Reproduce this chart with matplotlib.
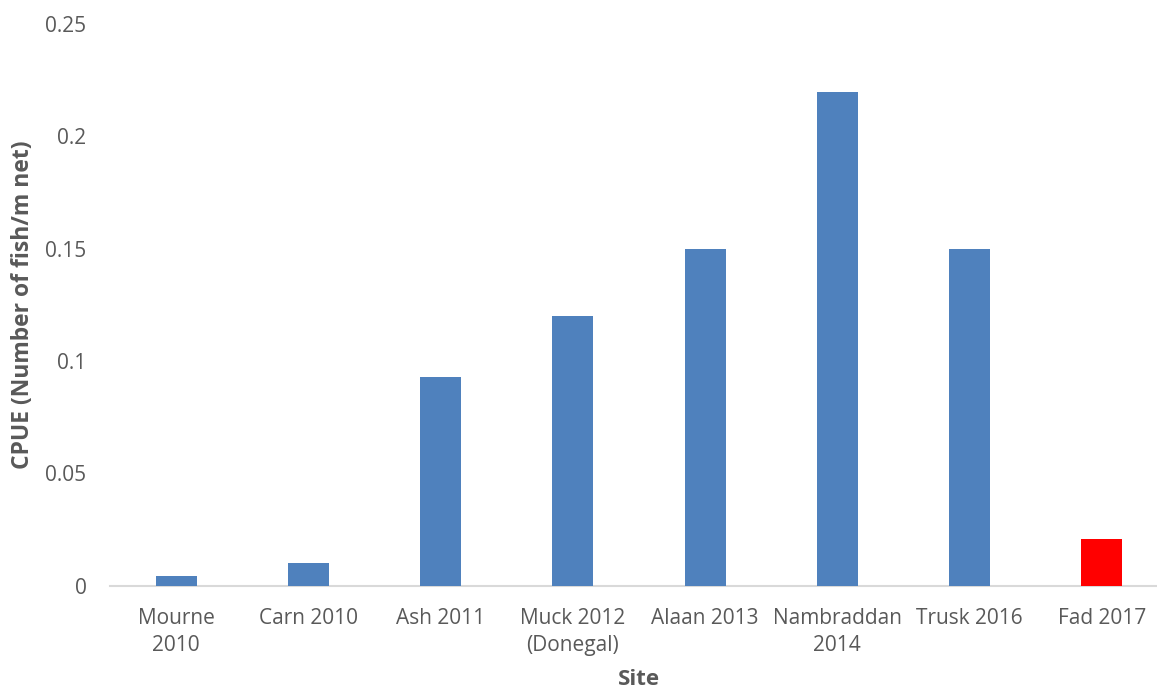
import matplotlib
matplotlib.use("Agg")
import matplotlib.pyplot as plt
from matplotlib.ticker import FixedLocator, FixedFormatter

sites = ["Mourne\n2010", "Carn 2010", "Ash 2011", "Muck 2012\n(Donegal)",
         "Alaan 2013", "Nambraddan\n2014", "Trusk 2016", "Fad 2017"]
cpue = [0.0042, 0.0101, 0.093, 0.12, 0.15, 0.22, 0.15, 0.021]
colors = ["#4f81bd"] * 7 + ["#ff0000"]
yticks = [0, 0.05, 0.1, 0.15, 0.2, 0.25]
ylabels = ["0", "0.05", "0.1", "0.15", "0.2", "0.25"]

plt.rcParams['font.family'] = ['Open Sans', 'DejaVu Sans']
fig = plt.figure(figsize=(11.57, 6.9), dpi=100)
ax = fig.add_axes([110/1157, 1-585.7/690, (1168-110)/1157, (585.7-24.2)/690])

x = range(len(sites))
ax.bar(x, cpue, width=0.31, color=colors, zorder=3)
ax.set_xlim(-0.5, len(sites)-0.5)
ax.set_ylim(0, 0.25)
ax.yaxis.set_major_locator(FixedLocator(yticks))
ax.yaxis.set_major_formatter(FixedFormatter(ylabels))
ax.set_xticks(list(x))
ax.set_xticklabels(sites, linespacing=1.4)
ax.tick_params(axis='both', length=0, labelsize=15, colors='#595959')
ax.tick_params(axis='x', pad=16)
ax.tick_params(axis='y', pad=17)
for s in ['top', 'right', 'left']:
    ax.spines[s].set_visible(False)
ax.spines['bottom'].set_color('#d9d9d9')
ax.spines['bottom'].set_linewidth(1.5)
ax.set_ylabel("CPUE (Number of fish/m net)", fontsize=16.5, fontweight='bold', color='#595959', labelpad=7)
ax.set_xlabel("Site", fontsize=16, fontweight='bold', color='#595959', labelpad=9)
fig.savefig("out.png", dpi=100)
